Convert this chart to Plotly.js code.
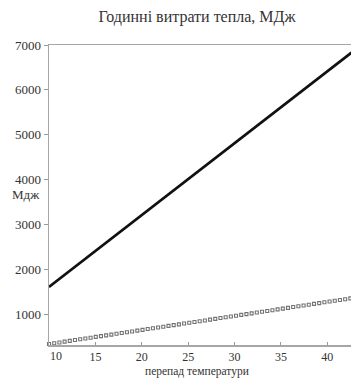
<!DOCTYPE html>
<html><head><meta charset="utf-8">
<script src="https://cdn.plot.ly/plotly-3.0.1.min.js"></script>
<style>html,body{margin:0;padding:0;background:#fff;}#chart{width:351px;height:379px;}</style>
</head><body><div id="chart"></div>
<script>
// Solid black series: heat loss vs temperature difference
const solidX = [10, 42.6];
const solidY = [1615, 6830];
// Dotted grey series
const dotX = [10, 10.56, 11.12, 11.68, 12.24, 12.8, 13.36, 13.92, 14.48, 15.04, 15.6, 16.16, 16.72, 17.28, 17.84, 18.4, 18.96, 19.52, 20.08, 20.64, 21.2, 21.76, 22.32, 22.88, 23.44, 24, 24.56, 25.12, 25.68, 26.24, 26.8, 27.36, 27.92, 28.48, 29.04, 29.6, 30.16, 30.72, 31.28, 31.84, 32.4, 32.96, 33.52, 34.08, 34.64, 35.2, 35.76, 36.32, 36.88, 37.44, 38, 38.56, 39.12, 39.68, 40.24, 40.8, 41.36, 41.92, 42.48];
const dotY = [344, 362, 379, 397, 414, 432, 449, 467, 484, 502, 519, 537, 554, 572, 589, 607, 624, 642, 659, 677, 694, 712, 729, 747, 764, 782, 799, 817, 834, 852, 869, 887, 904, 922, 939, 957, 974, 992, 1009, 1027, 1044, 1062, 1079, 1097, 1114, 1132, 1149, 1167, 1184, 1202, 1219, 1237, 1254, 1272, 1289, 1307, 1324, 1342, 1359];
const xTicks = [15, 20, 25, 30, 35, 40];
const yTicks = [1000, 2000, 3000, 4000, 5000, 6000, 7000];
const titleText = "Годинні витрати тепла, МДж";
const xTitle = "перепад температури";
const yTitle = "Мдж";

const serif = "Times New Roman, Liberation Serif, DejaVu Serif, serif";
const traces = [
  {x: dotX, y: dotY, mode: "markers", type: "scatter",
   marker: {symbol: "square-open", size: 3, color: "#737373", line: {width: 1.1, color: "#737373"}},
   hoverinfo: "none", showlegend: false, cliponaxis: false},
  {x: solidX, y: solidY, mode: "lines", type: "scatter",
   line: {color: "#111", width: 2.6}, hoverinfo: "none", showlegend: false}
];
const layout = {
  width: 351, height: 379,
  margin: {l: 48.5, r: 0, t: 44.5, b: 34},
  paper_bgcolor: "#fff", plot_bgcolor: "#fff",
  font: {family: serif, color: "#333", size: 13},
  title: {text: titleText, x: 197/351, xanchor: "center", y: 1 - 16/379, yanchor: "middle",
          font: {family: serif, size: 16, color: "#333"}},
  xaxis: {range: [10, 42.55], tickvals: xTicks, ticks: "inside", ticklen: 3, tickwidth: 1,
          tickcolor: "#999", showline: true, linecolor: "#a6a6a6", linewidth: 1.5, mirror: true,
          showgrid: false, zeroline: false,
          tickfont: {family: serif, size: 12, color: "#333"}},
  yaxis: {range: [322, 7000], tickvals: yTicks, ticks: "outside", ticklen: 4, tickwidth: 1,
          tickcolor: "#999", showline: true, linecolor: "#a6a6a6", linewidth: 1.5,
          showgrid: false, zeroline: false, tickfont: {family: serif, size: 13, color: "#333"}},
  annotations: [
    {text: "10", xref: "x", yref: "paper", x: 10, y: 0, xanchor: "center", yanchor: "top",
     xshift: 7, yshift: -2, showarrow: false, font: {family: serif, size: 12, color: "#333"}},
    {text: xTitle, xref: "paper", yref: "paper", x: (197-48.5)/302.5, y: 0, yanchor: "middle",
     yshift: -26, showarrow: false, font: {family: serif, size: 11.5, color: "#333"}},
    {text: yTitle, xref: "paper", yref: "y", x: 0, y: 4000, xanchor: "center", yanchor: "middle",
     xshift: -23, yshift: -15, showarrow: false, font: {family: serif, size: 13, color: "#333"}}
  ]
};
Plotly.newPlot("chart", traces, layout, {staticPlot: true, displayModeBar: false});
</script></body></html>
